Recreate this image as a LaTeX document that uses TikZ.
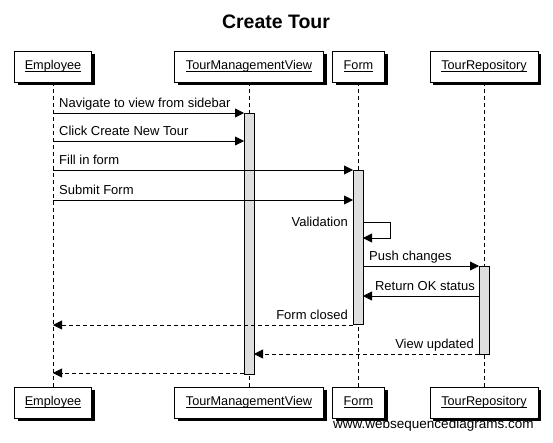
\documentclass[tikz,border=0pt]{standalone}
\usepackage{fontspec}
\setmainfont{Liberation Sans}
\usetikzlibrary{arrows.meta}
\newcommand\undl[1]{\underline{\smash{#1}}\vphantom{#1}}
\begin{document}
\begin{tikzpicture}[x=1pt,y=-1pt,
  part/.style={draw,fill=white,line width=0.8pt,minimum height=31pt,inner sep=0pt,
    font=\fontsize{12.7}{14}\selectfont},
  shad/.style={fill=black},
  life/.style={line width=0.8pt,dash pattern=on 4pt off 3pt},
  act/.style={draw,fill=gray!25,line width=0.8pt,minimum width=10pt,inner sep=0pt},
  msg/.style={line width=0.8pt,-{Triangle[length=9pt,width=9pt]}},
  ret/.style={msg,dash pattern=on 4pt off 3pt},
  lbl/.style={font=\fontsize{13}{15}\selectfont,inner sep=0pt}]
\useasboundingbox (0,0) rectangle (553,442);
\fill[white] (0,0) rectangle (553,442);

\node[font=\bfseries\fontsize{19.5}{22}\selectfont,anchor=base] (title) at (276,28) {Create Tour};

% shadows of participant boxes
\fill[shad] (18,54) rectangle (95,85);
\fill[shad] (177.5,54) rectangle (326.5,85);
\fill[shad] (335.5,54) rectangle (387.5,85);
\fill[shad] (433,54) rectangle (541,85);
\fill[shad] (18,390) rectangle (95,421);
\fill[shad] (177.5,390) rectangle (326.5,421);
\fill[shad] (335.5,390) rectangle (387.5,421);
\fill[shad] (433,390) rectangle (541,421);

% participants
\node[part,minimum width=77pt] (empT) at (53,66.5) {\undl{Employee}};
\node[part,minimum width=149pt] (tmvT) at (249,66.5) {\undl{TourManagementView}};
\node[part,minimum width=52pt] (frmT) at (358.5,66.5) {\undl{Form}};
\node[part,minimum width=108pt] (repT) at (484,66.5) {\undl{TourRepository}};

\node[part,minimum width=77pt] (empB) at (53,402.5) {\undl{Employee}};
\node[part,minimum width=149pt] (tmvB) at (249,402.5) {\undl{TourManagementView}};
\node[part,minimum width=52pt] (frmB) at (358.5,402.5) {\undl{Form}};
\node[part,minimum width=108pt] (repB) at (484,402.5) {\undl{TourRepository}};

% lifelines
\draw[life] (empT.south -| 53,0) -- (empB.north -| 53,0);
\draw[life] (tmvT.south -| 249,0) -- (tmvB.north -| 249,0);
\draw[life] (frmT.south -| 358,0) -- (frmB.north -| 358,0);
\draw[life] (repT.south -| 484,0) -- (repB.north -| 484,0);

% activations
\node[act,minimum height=261pt] (tmvA) at (249,243.5) {};
\node[act,minimum height=154pt] (frmA) at (358,247) {};
\node[act,minimum height=88pt] (repA) at (484,310) {};

% message endpoints
\coordinate (m1s) at (53,113);  \coordinate (m1e) at (244,113);
\coordinate (m2s) at (53,141);  \coordinate (m2e) at (244,141);
\coordinate (m3s) at (53,170);  \coordinate (m3e) at (353,170);
\coordinate (m4s) at (53,200);  \coordinate (m4e) at (353,200);
\coordinate (m5s) at (363,222); \coordinate (m5a) at (390,222);
\coordinate (m5b) at (390,238); \coordinate (m5e) at (363,238);
\coordinate (m6s) at (363,266); \coordinate (m6e) at (479,266);
\coordinate (m7s) at (479,296); \coordinate (m7e) at (363,296);
\coordinate (m8s) at (353,325); \coordinate (m8e) at (53,325);
\coordinate (m9s) at (479,354); \coordinate (m9e) at (254,354);
\coordinate (m10s) at (244,373); \coordinate (m10e) at (53,373);

\draw[msg] (m1s) -- (m1e);
\node[lbl,anchor=base west] (l1) at (59,107) {Navigate to view from sidebar};
\draw[msg] (m2s) -- (m2e);
\node[lbl,anchor=base west] (l2) at (59,135) {Click Create New Tour};
\draw[msg] (m3s) -- (m3e);
\node[lbl,anchor=base west] (l3) at (59,164) {Fill in form};
\draw[msg] (m4s) -- (m4e);
\node[lbl,anchor=base west] (l4) at (59,194) {Submit Form};
\draw[msg] (m5s) -- (m5a) -- (m5b) -- (m5e);
\node[lbl,anchor=base east] (l5) at (348,226) {Validation};
\draw[msg] (m6s) -- (m6e);
\node[lbl,anchor=base west] (l6) at (369,260) {Push changes};
\draw[msg] (m7s) -- (m7e);
\node[lbl,anchor=base east] (l7) at (475,290) {Return OK status};
\draw[ret] (m8s) -- (m8e);
\node[lbl,anchor=base east] (l8) at (348,319) {Form closed};
\draw[ret] (m9s) -- (m9e);
\node[lbl,anchor=base east] (l9) at (474,348) {View updated};
\draw[ret] (m10s) -- (m10e);

\node[font=\fontsize{13.5}{16}\selectfont,anchor=base west,inner sep=0pt] (footer) at (333,428) {www.websequencediagrams.com};
\end{tikzpicture}
\end{document}
